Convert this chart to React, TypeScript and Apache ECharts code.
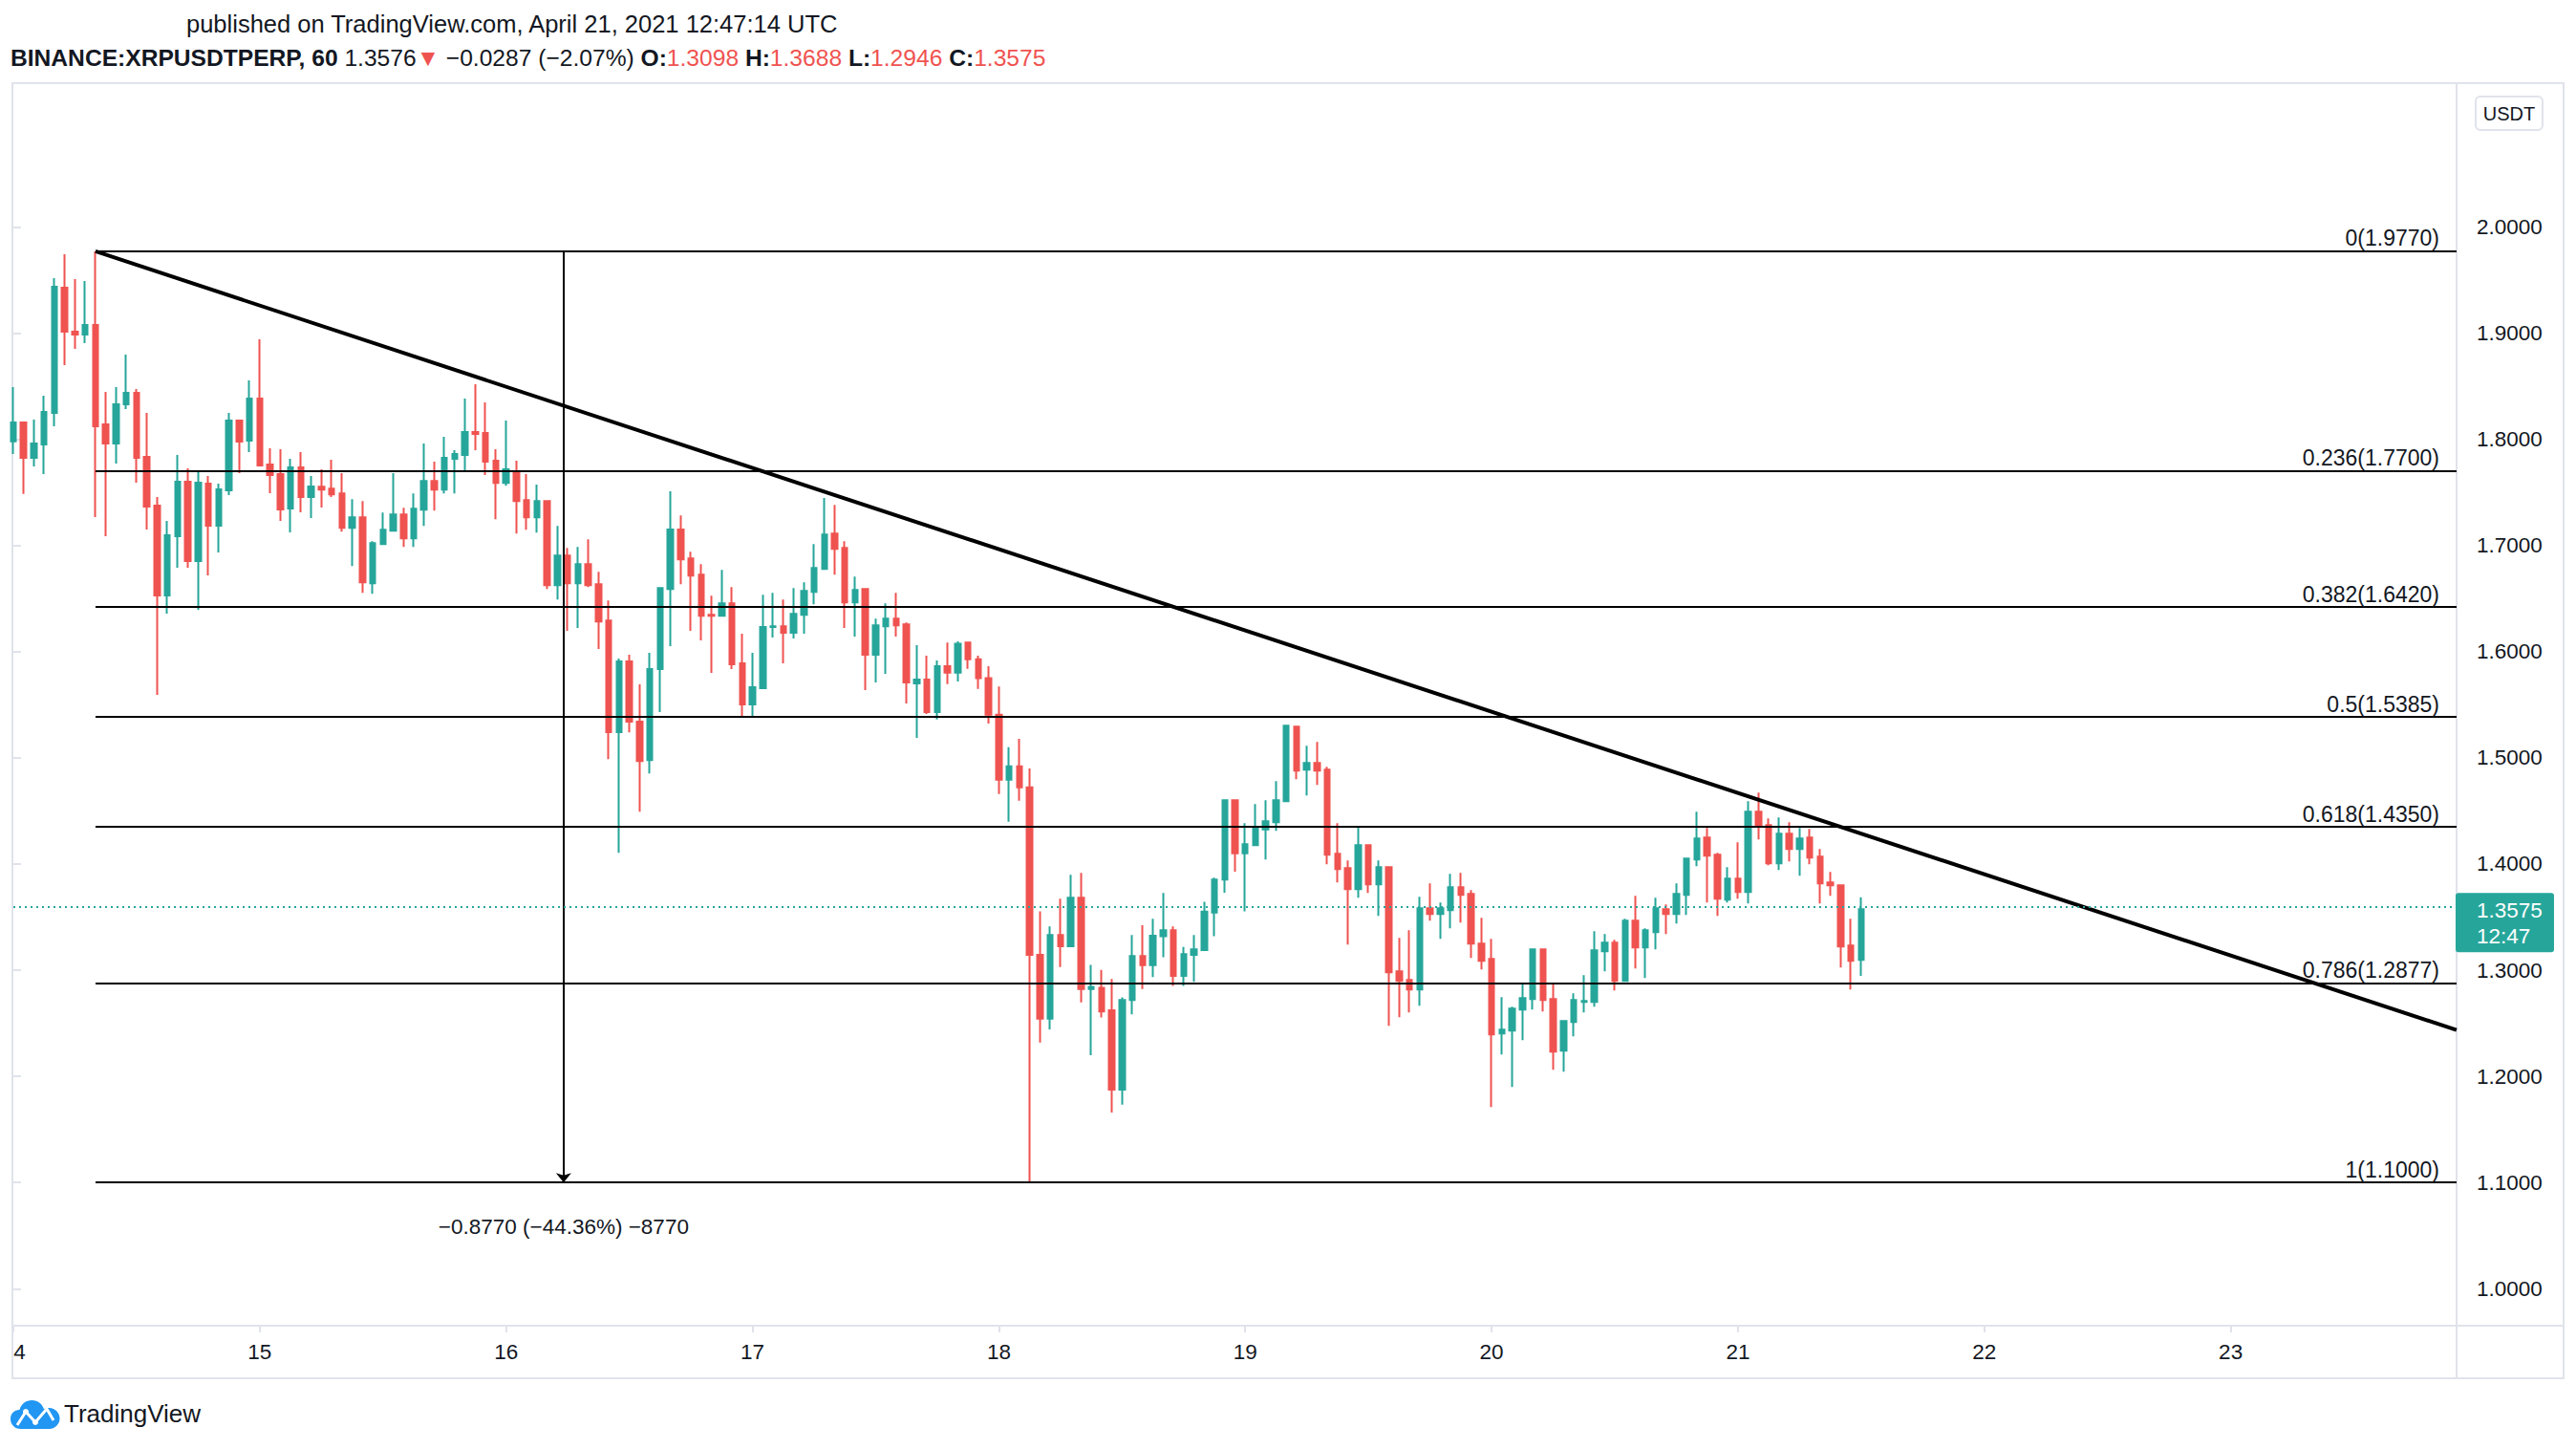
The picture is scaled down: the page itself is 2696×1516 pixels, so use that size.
import React, { useEffect, useRef } from 'react';
import * as echarts from 'echarts';

const UP = '#26a69a';
const DOWN = '#ef5350';
const TEXT = '#131722';
const BORDER = '#e0e3eb';
const FONT = '"Liberation Sans", Arial, sans-serif';

// Hourly candles, index 0 = April 14 00:00 UTC
const opens = [1.7981,1.8158,1.7825,1.7951,1.8248,1.9428,1.9014,1.8987,1.9077,1.8140,
1.7960,1.8329,1.8437,1.7834,1.7375,1.6529,1.7087,1.7600,1.6853,1.7582,
1.7186,1.7519,1.8176,1.7987,1.8383,1.7762,1.7672,1.7348,1.7735,1.7456,
1.7554,1.7536,1.7491,1.7167,1.7266,1.6645,1.7014,1.7140,1.7293,1.7068,
1.7338,1.7608,1.7527,1.7816,1.7852,1.8068,1.8059,1.7798,1.7590,1.7699,
1.7428,1.7266,1.7419,1.6627,1.6906,1.6645,1.6825,1.6636,1.6294,1.5241,
1.5907,1.5340,1.4979,1.5835,1.6591,1.7150,1.6879,1.6726,1.6348,1.6339,
1.6456,1.5889,1.5502,1.5655,1.6231,1.6240,1.6177,1.6348,1.6564,1.6780,
1.7113,1.6978,1.6465,1.6591,1.5970,1.6240,1.6312,1.6258,1.5700,1.5736,
1.5430,1.5862,1.5802,1.6086,1.5929,1.5750,1.5406,1.4794,1.4921,1.4723,
1.3144,1.2543,1.3331,1.3226,1.3682,1.2823,1.2835,1.2622,1.1875,1.2719,
1.3133,1.3047,1.3320,1.3376,1.2947,1.3144,1.3189,1.3544,1.3853,1.4600,
1.4100,1.4178,1.4325,1.4394,1.4592,1.5294,1.4889,1.4952,1.4889,1.4097,
1.3962,1.3764,1.4178,1.3809,1.3971,1.2989,1.2908,1.2818,1.3584,1.3530,
1.3566,1.3782,1.3719,1.3250,1.3106,1.2404,1.2431,1.2629,1.2728,1.3196,
1.2728,1.2242,1.2512,1.2701,1.2701,1.3178,1.3260,1.2899,1.3467,1.3214,
1.3359,1.3575,1.3530,1.3710,1.4043,1.4250,1.4088,1.3665,1.3863,1.3737,
1.4493,1.4367,1.4007,1.4286,1.4142,1.4250,1.4070,1.3827,1.3800,1.3233,
1.3098];

const highs = [1.8491,1.8167,1.8185,1.8410,1.9518,1.9743,1.9509,1.9491,1.9770,1.8446,
1.8491,1.8798,1.8473,1.8248,1.7456,1.7231,1.7852,1.7726,1.7690,1.7654,
1.7582,1.8248,1.8176,1.8554,1.8942,1.7915,1.7906,1.7816,1.7879,1.7654,
1.7717,1.7807,1.7681,1.7437,1.7419,1.7041,1.7311,1.7681,1.7356,1.7491,
1.7960,1.7789,1.8023,1.7897,1.8383,1.8518,1.8347,1.7906,1.8176,1.7798,
1.7672,1.7573,1.7419,1.7185,1.6978,1.6987,1.7059,1.6753,1.6483,1.5934,
1.5970,1.5691,1.5988,1.6609,1.7510,1.7284,1.6942,1.6825,1.6528,1.6771,
1.6609,1.6168,1.5988,1.6537,1.6555,1.6492,1.6600,1.6654,1.7014,1.7447,
1.7383,1.7041,1.6708,1.6600,1.6312,1.6456,1.6555,1.6276,1.6060,1.5961,
1.5918,1.6086,1.6097,1.6086,1.5962,1.5862,1.5671,1.5100,1.5179,1.4899,
1.3555,1.3413,1.3674,1.3898,1.3917,1.3051,1.3002,1.2917,1.2745,1.3331,
1.3424,1.3484,1.3727,1.3413,1.3219,1.3331,1.3644,1.3872,1.4600,1.4600,
1.4385,1.4565,1.4601,1.4781,1.5312,1.5303,1.5114,1.5150,1.4916,1.4385,
1.4034,1.4349,1.4178,1.4034,1.3971,1.3304,1.3377,1.3692,1.3818,1.3638,
1.3908,1.3917,1.3755,1.3493,1.3295,1.2746,1.2656,1.2872,1.3205,1.3205,
1.2872,1.2530,1.2782,1.2953,1.3368,1.3341,1.3287,1.3485,1.3701,1.3395,
1.3683,1.3620,1.3818,1.4052,1.4493,1.4340,1.4106,1.3971,1.4205,1.4592,
1.4673,1.4430,1.4439,1.4394,1.4340,1.4331,1.4142,1.3926,1.3809,1.3485,
1.3688];

const lows = [1.7861,1.7486,1.7744,1.7672,1.8122,1.8699,1.8852,1.8906,1.7267,1.7087,
1.7771,1.8284,1.7591,1.7150,1.5592,1.6358,1.6790,1.6790,1.6394,1.6718,
1.6934,1.7474,1.7681,1.7879,1.7744,1.7492,1.7231,1.7123,1.7312,1.7258,
1.7357,1.7456,1.7131,1.6807,1.6555,1.6546,1.7005,1.7131,1.6987,1.6987,
1.7185,1.7329,1.7491,1.7491,1.7708,1.7897,1.7663,1.7248,1.7563,1.7113,
1.7149,1.7122,1.6591,1.6492,1.6195,1.6222,1.6609,1.6024,1.4988,1.4106,
1.5240,1.4493,1.4853,1.5430,1.6051,1.6636,1.6195,1.6105,1.5799,1.6339,
1.5835,1.5385,1.5385,1.5655,1.6132,1.5889,1.6123,1.6168,1.6447,1.6780,
1.6726,1.6222,1.6141,1.5637,1.5709,1.5790,1.6141,1.5511,1.5187,1.5412,
1.5362,1.5694,1.5720,1.5839,1.5649,1.5324,1.4660,1.4398,1.4596,1.1000,
1.2319,1.2443,1.3029,1.3219,1.2697,1.2200,1.2555,1.1659,1.1733,1.2585,
1.2823,1.2935,1.3122,1.2853,1.2853,1.2891,1.3182,1.3320,1.3730,1.3928,
1.3554,1.4169,1.4043,1.4313,1.4583,1.4799,1.4646,1.4745,1.3998,1.3827,
1.3241,1.3683,1.3728,1.3511,1.2476,1.2557,1.2602,1.2665,1.3466,1.3296,
1.3394,1.3448,1.3115,1.3007,1.1711,1.2206,1.1900,1.2341,1.2629,1.2611,
1.2062,1.2044,1.2377,1.2602,1.2656,1.2989,1.2809,1.2899,1.3016,1.2926,
1.3196,1.3341,1.3440,1.3521,1.3980,1.3638,1.3512,1.3638,1.3674,1.3629,
1.4232,1.3989,1.3944,1.4025,1.3890,1.3998,1.3629,1.3701,1.3025,1.2818,
1.2946];

const closes = [1.8158,1.7825,1.7960,1.8257,1.9437,1.9014,1.8987,1.9077,1.8122,1.7960,
1.8329,1.8437,1.7825,1.7366,1.6529,1.7096,1.7600,1.6853,1.7591,1.7186,
1.7528,1.8176,1.7978,1.8383,1.7753,1.7663,1.7339,1.7735,1.7456,1.7555,
1.7527,1.7482,1.7167,1.7266,1.6654,1.7023,1.7149,1.7293,1.7068,1.7347,
1.7608,1.7527,1.7825,1.7861,1.8068,1.8050,1.7789,1.7590,1.7717,1.7419,
1.7266,1.7419,1.6627,1.6906,1.6645,1.6825,1.6627,1.6285,1.5241,1.5907,
1.5340,1.4970,1.5835,1.6600,1.7150,1.6870,1.6717,1.6339,1.6339,1.6456,
1.5880,1.5502,1.5664,1.6231,1.6240,1.6177,1.6357,1.6573,1.6789,1.7104,
1.6969,1.6465,1.6582,1.5970,1.6249,1.6312,1.6249,1.5709,1.5736,1.5430,
1.5862,1.5802,1.6074,1.5929,1.5750,1.5406,1.4794,1.4921,1.4723,1.3144,
1.2543,1.3331,1.3226,1.3682,1.2823,1.2842,1.2611,1.1875,1.2719,1.3133,
1.3047,1.3324,1.3376,1.2947,1.3152,1.3197,1.3551,1.3853,1.4600,1.4100,
1.4187,1.4334,1.4403,1.4601,1.5303,1.4880,1.4952,1.4880,1.4088,1.3953,
1.3764,1.4178,1.3809,1.3971,1.2980,1.2899,1.2818,1.3584,1.3530,1.3584,
1.3782,1.3710,1.3250,1.3088,1.2395,1.2440,1.2638,1.2737,1.3196,1.2719,
1.2233,1.2521,1.2719,1.2710,1.3187,1.3260,1.2899,1.3467,1.3214,1.3377,
1.3584,1.3530,1.3719,1.4052,1.4241,1.4079,1.3674,1.3863,1.3737,1.4493,
1.4358,1.4007,1.4286,1.4142,1.4241,1.4061,1.3818,1.3800,1.3224,1.3088,
1.3575];

const priceTicks = [1.0, 1.1, 1.2, 1.3, 1.4, 1.5, 1.6, 1.7, 1.8, 1.9, 2.0];
const dayTicks = [0, 24, 48, 72, 96, 120, 144, 168, 192, 216];
const dayLabels = ['4', '15', '16', '17', '18', '19', '20', '21', '22', '23'];

const fibLevels = [0, 0.236, 0.382, 0.5, 0.618, 0.786, 1];
const fibHigh = 1.977;
const fibLow = 1.1;
const fibStartHour = 8;
const axisEndHour = 238;
const trendStart = [8, 1.977];
const trendEnd = [238, 1.2437];
const measureHour = 53.6;
const measureTextPrice = 1.0588;
const lastPrice = 1.3575;

const CLOUD_PATH =
  'M11 30 C4 30 0 25 0 19.5 C0 14 4 10 9.5 10 C11 4 16 0 22.5 0 C28.5 0 33.5 4 35 9.5 C36.5 8.5 38.5 8 40.5 8 C46.5 8 51.5 13 51.5 19 C51.5 25 46.5 30 40.5 30 Z';

function fmtMinus(v: number, digits: number) {
  const s = Math.abs(v).toFixed(digits);
  return v < 0 ? '\u2212' + s : s;
}

function buildGraphics(priceY: number) {
  const els: any[] = [];
  const H1 = 25.5;
  const H2 = 24.6;
  // frame
  els.push({ type: 'rect', shape: { x: 13, y: 87, width: 2670, height: 1355 }, style: { fill: 'none', stroke: BORDER, lineWidth: 2 }, silent: true });
  els.push({ type: 'line', shape: { x1: 2571, y1: 87, x2: 2571, y2: 1442 }, style: { stroke: BORDER, lineWidth: 2 }, silent: true });
  els.push({ type: 'line', shape: { x1: 13, y1: 1387, x2: 2683, y2: 1387 }, style: { stroke: BORDER, lineWidth: 2 }, silent: true });
  // header
  els.push({
    type: 'text', x: 195, y: 25,
    style: { text: 'published on TradingView.com, April 21, 2021 12:47:14 UTC', fill: TEXT, fontSize: H1, fontFamily: FONT, verticalAlign: 'middle', align: 'left' },
  });
  els.push({
    type: 'text', x: 11, y: 60,
    style: {
      text: '{b|BINANCE:XRPUSDTPERP, 60} {n|1.3576}{r|\u25BC} {n|\u22120.0287 (\u22122.07%)} {b|O:}{r|1.3098} {b|H:}{r|1.3688} {b|L:}{r|1.2946} {b|C:}{r|1.3575}',
      fill: TEXT, fontSize: H2, fontFamily: FONT, verticalAlign: 'middle', align: 'left',
      rich: {
        b: { fontWeight: 'bold', fill: TEXT, fontSize: H2, fontFamily: FONT },
        n: { fill: TEXT, fontSize: H2, fontFamily: FONT },
        r: { fill: DOWN, fontSize: H2, fontFamily: FONT },
      },
    },
  });
  // USDT box
  els.push({ type: 'rect', shape: { x: 2591, y: 101, width: 70, height: 35, r: 5 }, style: { fill: '#fff', stroke: BORDER, lineWidth: 2 } });
  els.push({ type: 'text', x: 2626, y: 119, style: { text: 'USDT', fill: TEXT, fontSize: 20, fontFamily: FONT, align: 'center', verticalAlign: 'middle' } });
  // last price box
  els.push({ type: 'rect', z: 100, shape: { x: 2570, y: priceY - 17, width: 103, height: 62, r: 3 }, style: { fill: UP } });
  els.push({ type: 'text', z: 101, x: 2592, y: priceY + 1, style: { text: lastPrice.toFixed(4), fill: '#ffffff', fontSize: 22.5, fontFamily: FONT, align: 'left', verticalAlign: 'middle' } });
  els.push({ type: 'text', z: 101, x: 2592, y: priceY + 28, style: { text: '12:47', fill: '#ffffff', fontSize: 22.5, fontFamily: FONT, align: 'left', verticalAlign: 'middle' } });
  // logo
  els.push({ type: 'tvcloud', x: 11, y: 1465, scaleX: 1, scaleY: 1, style: { fill: '#2196f3' } });
  els.push({ type: 'polyline', shape: { points: [[18, 1491], [27, 1477], [37, 1488], [49, 1474], [56, 1486]] }, style: { stroke: '#fff', lineWidth: 3, fill: 'none' } });
  els.push({ type: 'circle', shape: { cx: 27, cy: 1477, r: 3 }, style: { fill: '#fff' } });
  els.push({ type: 'circle', shape: { cx: 37, cy: 1488, r: 3 }, style: { fill: '#fff' } });
  els.push({ type: 'text', x: 67, y: 1479, style: { text: 'TradingView', fill: TEXT, fontSize: 26, fontFamily: FONT, align: 'left', verticalAlign: 'middle' } });
  return els;
}

export default function App() {
  const ref = useRef<HTMLDivElement>(null);
  useEffect(() => {
    if (!ref.current) return;
    try {
      echarts.graphic.registerShape('tvcloud', echarts.graphic.extendPath(CLOUD_PATH, {}) as any);
    } catch (e) { /* ignore */ }
    const chart = echarts.init(ref.current, null, { renderer: 'svg' });

    const candleData = opens.map((o, i) => [i, o, closes[i], lows[i], highs[i]]);

    const fibLines = fibLevels.map((l) => {
      const v = fibHigh - l * (fibHigh - fibLow);
      return [
        {
          coord: [fibStartHour, v], symbol: 'none',
          lineStyle: { color: '#000', width: 2, type: 'solid' },
          label: { show: true, formatter: `${l}(${v.toFixed(4)})` },
        },
        { coord: [axisEndHour, v], symbol: 'none' },
      ];
    });

    const diff = fibLow - fibHigh;
    const pct = (diff / fibHigh) * 100;
    const measureText = `${fmtMinus(diff, 4)} (${fmtMinus(pct, 2)}%) ${fmtMinus(Math.round(diff * 10000), 0)}`;

    const option: any = {
      animation: false,
      backgroundColor: '#ffffff',
      grid: { left: 14, right: 125, top: 87, bottom: 129 },
      xAxis: {
        type: 'value', min: 0, max: axisEndHour,
        splitLine: { show: false },
        axisLine: { show: false },
        axisTick: { show: true, length: 7, lineStyle: { color: BORDER, width: 2 }, customValues: dayTicks },
        axisLabel: {
          customValues: dayTicks, margin: 16, fontSize: 22.5, color: TEXT, fontFamily: FONT,
          formatter: (v: number) => {
            const i = dayTicks.indexOf(Math.round(v));
            const s = i >= 0 ? dayLabels[i] : '';
            return i === 0 ? '{s|' + s + '}' : s;
          },
          rich: { s: { padding: [0, 0, 0, 13], fontSize: 22.5, color: TEXT, fontFamily: FONT } },
        },
      },
      yAxis: {
        type: 'value', position: 'right', min: 0.9652, max: 2.1354,
        splitLine: { show: false },
        axisLine: { show: false },
        axisTick: { show: true, length: 8, lineStyle: { color: BORDER, width: 2 }, customValues: priceTicks },
        axisLabel: {
          customValues: priceTicks, margin: 21, fontSize: 22.5, color: TEXT, fontFamily: FONT,
          formatter: (v: number) => v.toFixed(4),
        },
      },
      series: [
        {
          type: 'candlestick',
          data: candleData,
          barWidth: 6,
          itemStyle: { color: UP, color0: DOWN, borderColor: UP, borderColor0: DOWN, borderWidth: 2 },
          markLine: {
            silent: true, animation: false, symbol: ['none', 'none'],
            label: {
              show: true, position: 'insideEndTop', color: TEXT, fontSize: 23, fontFamily: FONT,
              distance: [18, 2],
            },
            lineStyle: { color: '#000', width: 2, type: 'solid' },
            data: [
              ...fibLines,
              [
                { coord: trendStart, symbol: 'none', lineStyle: { color: '#000', width: 4, type: 'solid' }, label: { show: false } },
                { coord: trendEnd, symbol: 'none' },
              ],
              [
                { coord: [measureHour, fibHigh], symbol: 'none', lineStyle: { color: '#000', width: 2, type: 'solid' }, label: { show: false } },
                { coord: [measureHour, fibLow], symbol: 'arrow', symbolSize: [12, 10] },
              ],
              { yAxis: lastPrice, lineStyle: { color: UP, width: 2, type: [2, 4] }, label: { show: false } },
            ],
          },
          markPoint: {
            silent: true, animation: false, symbol: 'circle', symbolSize: 1,
            itemStyle: { color: 'rgba(0,0,0,0)' },
            label: { show: true, position: 'inside', color: TEXT, fontSize: 22.5, fontFamily: FONT, formatter: measureText },
            data: [{ coord: [measureHour, measureTextPrice] }],
          },
        },
      ],
    };
    chart.setOption(option);
    let py = chart.convertToPixel({ yAxisIndex: 0 }, lastPrice) as any;
    if (typeof py !== 'number' || isNaN(py)) py = 951;
    chart.setOption({ graphic: buildGraphics(py) });
    return () => chart.dispose();
  }, []);
  return (
    <div
      ref={ref}
      style={{ position: 'fixed', left: 0, top: 0, width: 2696, height: 1516, background: '#ffffff' }}
    />
  );
}
